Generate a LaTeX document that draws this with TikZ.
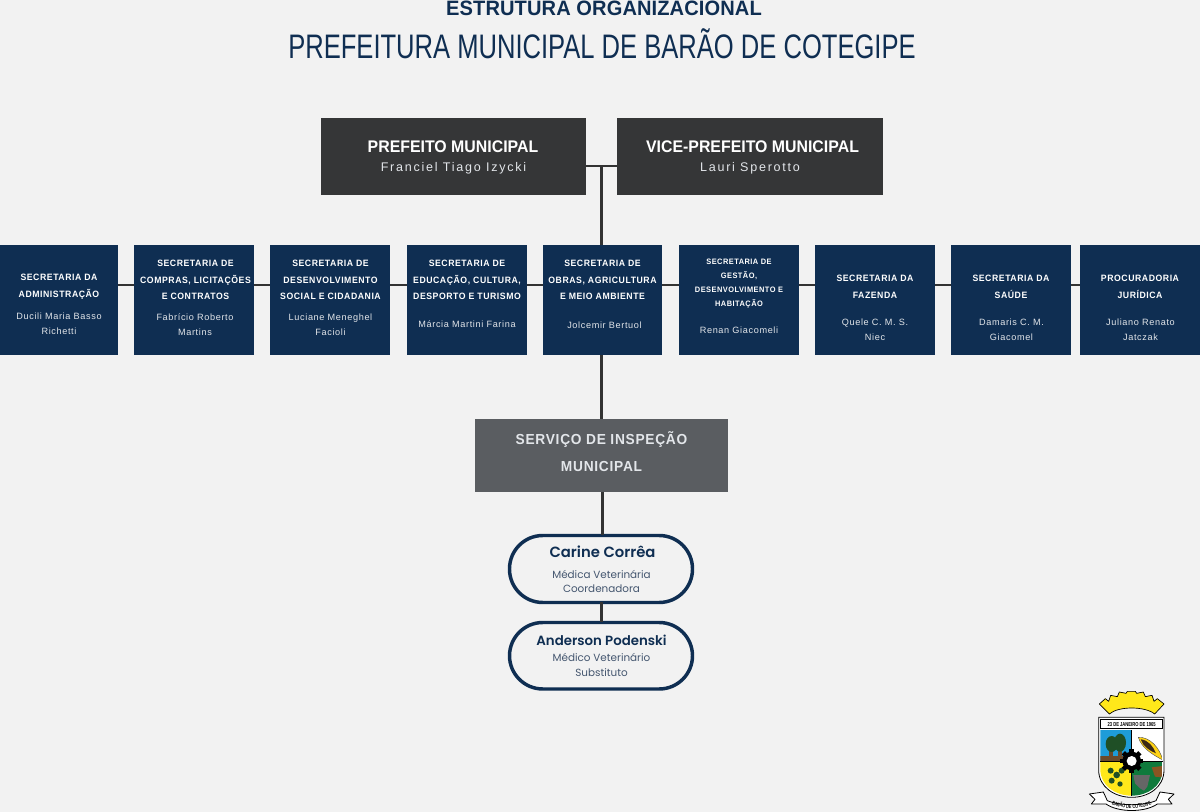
\documentclass[tikz,border=0pt]{standalone}
\usepackage{fontspec}
\usetikzlibrary{decorations.text}
\setmainfont{Liberation Sans}
\newfontfamily\ftitleb[FakeStretch=0.965,LetterSpace=0.5]{Liberation Sans Bold}
\newfontfamily\ftitler[FakeStretch=0.752]{Liberation Sans}
\newfontfamily\fsec[LetterSpace=6,FakeStretch=0.945]{Liberation Sans Bold}
\newfontfamily\fname[LetterSpace=7]{Liberation Sans}
\newfontfamily\ftop[FakeStretch=0.945]{Liberation Sans Bold}
\newfontfamily\fserv[LetterSpace=5,FakeStretch=0.945]{Liberation Sans Bold}
\newfontfamily\ftopn[LetterSpace=14]{Liberation Sans}
\newfontfamily\fpop{Poppins}
\newfontfamily\fpopb{Poppins SemiBold}
\newfontfamily\flogo[FakeStretch=0.72]{Liberation Sans Bold}
\definecolor{bg}{HTML}{F2F2F2}
\definecolor{navy}{HTML}{0F2E52}
\definecolor{dark}{HTML}{353637}
\definecolor{serv}{HTML}{5A5D61}
\definecolor{line}{HTML}{333333}
\definecolor{role}{HTML}{44566F}
\definecolor{pale}{HTML}{E3E6EA}
\definecolor{crest}{HTML}{FFE81A}
\definecolor{sky}{HTML}{1E9CD8}
\definecolor{grass}{HTML}{0F7A3C}
\definecolor{tree}{HTML}{1F4F26}
\definecolor{soil}{HTML}{6B4A2A}
\tikzset{
  px/.style={x=0.75pt,y=-0.75pt},
  topbox/.style={fill=dark,draw=none,inner sep=0,outer sep=0},
  secbox/.style={fill=navy,draw=none,inner sep=0,outer sep=0},
  servbox/.style={fill=serv,draw=none,inner sep=0,outer sep=0},
  pill/.style={fill=bg,draw=navy,line width=2.6pt,rounded corners=25pt,inner sep=0,outer sep=0},
  conn/.style={draw=line,line width=2.1pt},
  sect/.style={text=white,align=center,inner sep=0,font=\fsec\fontsize{6.9}{12.6}\selectfont},
  sects/.style={text=white,align=center,inner sep=0,font=\fsec\fontsize{5.9}{10.6}\selectfont},
  secn/.style={text=pale,align=center,inner sep=0,font=\fname\fontsize{6.85}{11}\selectfont},
}
\newcommand{\boxat}[6]{\node[#2,minimum width=#5*0.75pt-#3*0.75pt,minimum height=#6*0.75pt-#4*0.75pt,anchor=north west] (#1) at (#3,#4) {};}
\begin{document}
\begin{tikzpicture}[px]
\useasboundingbox (0,0) rectangle (1200,812);
\fill[bg] (0,0) rectangle (1200,812);
% titles
\begin{scope}
\clip (0,0) rectangle (1200,812);
\node[text=navy,inner sep=0,font=\ftitleb\fontsize{15.6}{18}\selectfont] (t1) at (604,8.5) {ESTRUTURA ORGANIZACIONAL};
\end{scope}
\node[text=navy,inner sep=0,font=\ftitler\fontsize{25.5}{30}\selectfont] (t2) at (602,44) {PREFEITURA MUNICIPAL DE BARÃO DE COTEGIPE};
% boxes
\boxat{pref}{topbox}{321}{118}{586}{195}
\boxat{vice}{topbox}{617}{118}{883}{195}
\boxat{b0}{secbox}{0}{245}{118}{355}
\boxat{b1}{secbox}{134}{245}{254}{355}
\boxat{b2}{secbox}{270}{245}{390}{355}
\boxat{b3}{secbox}{407}{245}{527}{355}
\boxat{b4}{secbox}{543}{245}{662}{355}
\boxat{b5}{secbox}{679}{245}{799}{355}
\boxat{b6}{secbox}{815}{245}{935}{355}
\boxat{b7}{secbox}{951}{245}{1071}{355}
\boxat{b8}{secbox}{1080}{245}{1200}{355}
\boxat{sv}{servbox}{475}{419}{728}{492}
\boxat{p1}{pill}{509.5}{535.5}{692.5}{602.5}
\boxat{p2}{pill}{509.5}{622.5}{692.5}{689}
% connector anchors
\coordinate (hy) at (0,285);
\coordinate (ty) at (0,166);
\coordinate (vx) at (601.5,0);
\coordinate (jt) at (vx |- ty);
\coordinate (px2) at (602.5,0);
% connectors
\draw[conn] (pref.east |- ty) -- (vice.west |- ty);
\draw[conn] (jt) -- (vx |- b4.north);
\foreach \a/\b in {b0/b1,b1/b2,b2/b3,b3/b4,b4/b5,b5/b6,b6/b7,b7/b8}
  \draw[conn] (\a.east |- hy) -- (\b.west |- hy);
\draw[conn] (vx |- b4.south) -- (vx |- sv.north);
\draw[conn] (px2 |- sv.south) -- (px2 |- p1.north);
\draw[conn] (vx |- p1.south) -- (vx |- p2.north);
% top labels
\node[text=white,inner sep=0,font=\ftop\fontsize{12.6}{15}\selectfont] (l1) at (453,147) {PREFEITO MUNICIPAL};
\node[text=pale,inner sep=0,font=\ftopn\fontsize{9.4}{11}\selectfont] (l2) at (453.5,168) {Franciel Tiago Izycki};
\node[text=white,inner sep=0,font=\ftop\fontsize{12.6}{15}\selectfont] (l3) at (752.5,147) {VICE-PREFEITO MUNICIPAL};
\node[text=pale,inner sep=0,font=\ftopn\fontsize{9.4}{11}\selectfont] (l4) at (750,168) {Lauri Sperotto};
% secretaria labels
\node[sect] (s0) at (59,286.5) {SECRETARIA DA\\ADMINISTRAÇÃO};
\node[secn] (n0) at (59,324) {Ducili Maria Basso\\Richetti};
\node[sect] (s1) at (195.5,280) {SECRETARIA DE\\COMPRAS, LICITAÇÕES\\E CONTRATOS};
\node[secn] (n1) at (195,325) {Fabrício Roberto\\Martins};
\node[sect] (s2) at (330.5,280) {SECRETARIA DE\\DESENVOLVIMENTO\\SOCIAL E CIDADANIA};
\node[secn] (n2) at (330.5,324.5) {Luciane Meneghel\\Facioli};
\node[sect] (s3) at (467,280) {SECRETARIA DE\\EDUCAÇÃO, CULTURA,\\DESPORTO E TURISMO};
\node[secn] (n3) at (467,324) {Márcia Martini Farina};
\node[sect] (s4) at (602.5,280) {SECRETARIA DE\\OBRAS, AGRICULTURA\\E MEIO AMBIENTE};
\node[secn] (n4) at (604.5,325) {Jolcemir Bertuol};
\node[sects] (s5) at (739,283.5) {SECRETARIA DE\\GESTÃO,\\DESENVOLVIMENTO E\\HABITAÇÃO};
\node[secn] (n5) at (739,330) {Renan Giacomeli};
\node[sect] (s6) at (875,286.5) {SECRETARIA DA\\FAZENDA};
\node[secn] (n6) at (875,330) {Quele C. M. S.\\Niec};
\node[sect] (s7) at (1011,286.5) {SECRETARIA DA\\SAÚDE};
\node[secn] (n7) at (1011.5,330) {Damaris C. M.\\Giacomel};
\node[sect] (s8) at (1140,286.5) {PROCURADORIA\\JURÍDICA};
\node[secn] (n8) at (1140.5,329.5) {Juliano Renato\\Jatczak};
% service
\node[text=pale,align=center,inner sep=0,font=\fserv\fontsize{10.9}{20.2}\selectfont] (sl) at (601.5,452) {SERVIÇO DE INSPEÇÃO\\MUNICIPAL};
% pills
\node[text=navy,inner sep=0,font=\fpopb\fontsize{11.1}{13}\selectfont] (c1) at (602.5,552) {Carine Corrêa};
\node[text=role,align=center,inner sep=0,font=\fpop\fontsize{7.8}{10.6}\selectfont] (c2) at (601.5,581.5) {Médica Veterinária\\Coordenadora};
\node[text=navy,inner sep=0,font=\fpopb\fontsize{10}{13}\selectfont] (c3) at (601.5,640) {Anderson Podenski};
\node[text=role,align=center,inner sep=0,font=\fpop\fontsize{7.8}{10.6}\selectfont] (c4) at (601.5,665) {Médico Veterinário\\Substituto};
% coat of arms
\begin{scope}[shift={(1070,680)},x=0.25pt,y=-0.25pt]
  \filldraw[fill=crest,draw=black,line width=0.5pt,line join=round]
    (88,72) -- (106,56) -- (116,64) -- (122,46) -- (142,50) -- (148,36) -- (168,40) -- (172,34) -- (196,34) -- (200,40) -- (220,36) -- (226,50) -- (246,46) -- (252,64) -- (262,56) -- (282,72) -- (254,102)
    .. controls (225,78) and (145,78) .. (118,102) -- cycle;
  \filldraw[fill=white,draw=black,line width=0.6pt]
    (86,112) -- (282,112) -- (282,270) .. controls (282,322) and (235,352) .. (185,352) .. controls (135,352) and (86,322) .. (86,270) -- cycle;
  \begin{scope}
    \clip (91,150) -- (278,150) -- (278,268) .. controls (278,318) and (233,347) .. (185,347) .. controls (137,347) and (91,318) .. (91,268) -- cycle;
    \fill[sky] (91,150) rectangle (185,245);
    \fill[soil] (91,228) rectangle (185,245);
    \fill[white] (185,150) rectangle (278,245);
    \fill[crest] (91,245) rectangle (185,350);
    \fill[grass] (185,245) rectangle (278,350);
    \fill[soil] (118,205) rectangle (128,232);
    \fill[soil] (145,205) rectangle (155,232);
    \fill[tree] (125,192) ellipse (18 and 24);
    \fill[tree] (150,188) ellipse (18 and 27);
    \filldraw[fill=crest!80!orange,draw=black!70,line width=0.3pt] (205,172) .. controls (240,170) and (270,205) .. (278,240) .. controls (250,225) and (215,205) .. (205,172) -- cycle;
    \fill[black!45!soil] (212,178) .. controls (235,180) and (250,200) .. (258,220) .. controls (238,212) and (218,198) .. (212,178) -- cycle;
    \fill[tree] (140,285) circle (10);
    \fill[tree] (122,272) circle (9);
    \fill[tree] (155,272) circle (9);
    \fill[tree] (125,302) circle (9);
    \fill[tree] (150,312) circle (8);
    \fill[black!60] (190,285) -- (240,285) -- (232,320) -- (222,332) -- (210,325) -- (195,310) -- cycle;
    \fill[soil!80!orange] (245,262) -- (278,258) -- (278,292) -- (255,290) -- cycle;
  \end{scope}
  \draw[black,line width=0.5pt] (185,150) -- (185,347) (91,245) -- (278,245);
  \fill[white] (92,118) rectangle (277,146);
  \draw[black,line width=0.5pt] (92,118) rectangle (277,146);
  \node[text=black,inner sep=0,font=\flogo\fontsize{4.3}{5}\selectfont] (ld) at (185,133) {23 DE JANEIRO DE 1965};
  \foreach \i in {0,45,...,315}
    \fill[black,rotate around={\i:(185,243)}] (178,208) rectangle (192,222);
  \fill[black] (185,243) circle (28);
  \fill[white] (185,243) circle (15);
  \filldraw[fill=white,draw=black,line width=0.6pt,line join=round]
    (58,342) -- (100,336) -- (112,362) .. controls (150,378) and (220,378) .. (258,362) -- (270,336) -- (312,342) -- (295,358) -- (306,372) -- (262,372) .. controls (225,398) and (145,398) .. (108,372) -- (64,372) -- (75,358) -- cycle;
  \path[decorate,decoration={text along path,text align=center,
    text={|\flogo\fontsize{4}{5}\selectfont|BARÃO DE COTEGIPE}}]
    (115,367) .. controls (150,391) and (220,391) .. (255,367);
\end{scope}
\end{tikzpicture}
\end{document}
